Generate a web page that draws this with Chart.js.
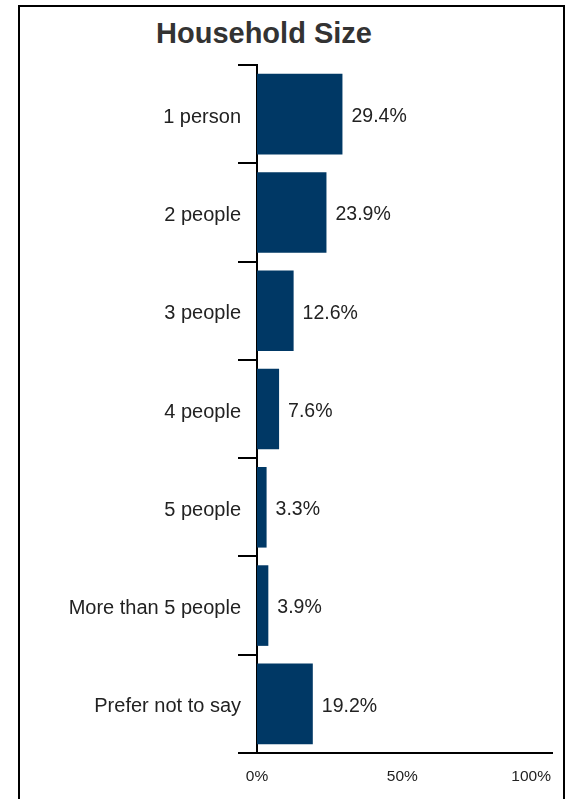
<!DOCTYPE html>
<html>
<head>
<meta charset="utf-8">
<script src="https://cdn.jsdelivr.net/npm/chart.js@4"></script>
<style>
  html, body { margin: 0; padding: 0; background: #fff; overflow: hidden; }
  #wrap { position: relative; width: 571px; height: 799px; }
  #frame {
    position: absolute; left: 18px; top: 5px; width: 543px; height: 820px;
    border: 2px solid #000;
  }
  #title {
    position: absolute; left: 0; top: 19px; width: 528px; text-align: center;
    font: bold 29px "Liberation Sans", Arial, sans-serif; line-height: 29px; color: #333;
  }
  #chart { position: absolute; left: 0; top: 0; }
</style>
</head>
<body>
<div id="wrap">
  <div id="frame"></div>
  <div id="title">Household Size</div>
  <canvas id="chart" width="571" height="799"></canvas>
</div>
<script>
const categories = ['1 person', '2 people', '3 people', '4 people', '5 people', 'More than 5 people', 'Prefer not to say'];
const shares = [29.4, 23.9, 12.6, 7.6, 3.3, 3.9, 19.2];
const xTicks = [0, 50, 100];

const FONT = '"Liberation Sans", Arial, sans-serif';

// value labels to the right of each bar
const barValueLabels = {
    id: 'barValueLabels',
    afterDatasetsDraw(chart) {
        const ctx = chart.ctx;
        const meta = chart.getDatasetMeta(0);
        ctx.save();
        ctx.font = '19.5px ' + FONT;
        ctx.fillStyle = '#222';
        ctx.textAlign = 'left';
        ctx.textBaseline = 'middle';
        meta.data.forEach((bar, i) => {
            ctx.fillText(shares[i].toFixed(1) + '%', bar.x + 9, bar.y + 2.5);
        });
        ctx.restore();
    }
};

// x tick labels, last one pulled inside the frame
const xTickLabels = {
    id: 'xTickLabels',
    afterDraw(chart) {
        const ctx = chart.ctx;
        const scale = chart.scales.x;
        ctx.save();
        ctx.font = '15.5px ' + FONT;
        ctx.fillStyle = '#222';
        ctx.textBaseline = 'middle';
        ctx.textAlign = 'left';
        xTicks.forEach(v => {
            const text = v + '%';
            const w = ctx.measureText(text).width;
            let x = scale.getPixelForValue(v) - w / 2;
            if (x + w > 551) x = 551 - w;
            ctx.fillText(text, x, 777);
        });
        ctx.restore();
    }
};

const ctx = document.getElementById('chart').getContext('2d');
new Chart(ctx, {
    type: 'bar',
    data: {
        labels: categories,
        datasets: [{
            label: 'Share',
            data: shares,
            backgroundColor: '#003865',
            barPercentage: 0.82,
            categoryPercentage: 1
        }]
    },
    options: {
        indexAxis: 'y',
        responsive: false,
        animation: false,
        layout: { padding: { left: 20, top: 65, right: 19, bottom: 46 } },
        scales: {
            x: {
                min: 0,
                max: 101.5,
                ticks: { display: false, stepSize: 50 },
                grid: { display: false },
                border: { display: true, color: '#000', width: 2 },
                afterFit(scale) { scale.height = 0; }
            },
            y: {
                ticks: {
                    color: '#222',
                    font: { family: FONT, size: 20 },
                    padding: -3,
                    labelOffset: 3
                },
                grid: {
                    drawOnChartArea: false,
                    drawTicks: true,
                    tickLength: 19,
                    color: '#000',
                    lineWidth: 2
                },
                border: { display: true, color: '#000', width: 2 },
                afterFit(scale) { scale.width = 237; }
            }
        },
        plugins: {
            legend: { display: false },
            tooltip: { enabled: false }
        }
    },
    plugins: [barValueLabels, xTickLabels]
});
</script>
</body>
</html>
